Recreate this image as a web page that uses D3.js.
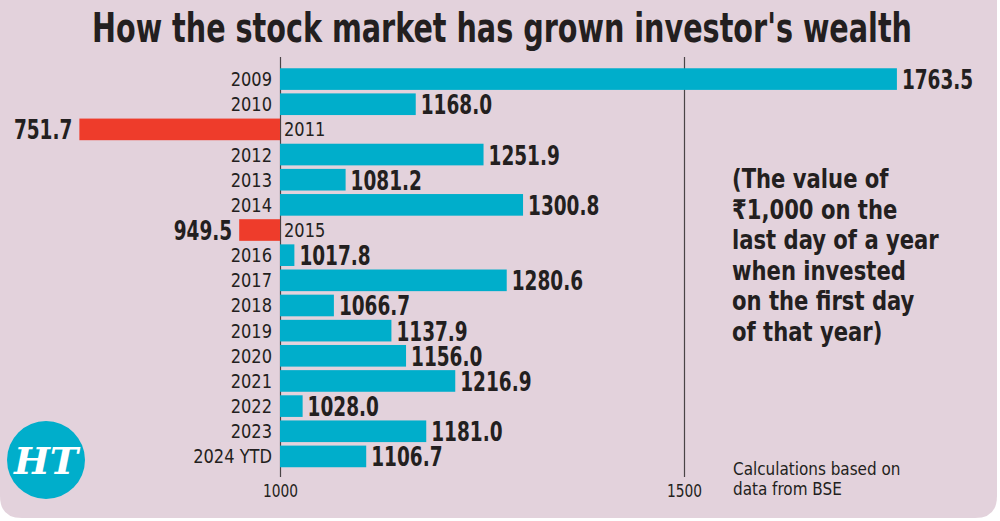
<!DOCTYPE html>
<html>
<head>
<meta charset="utf-8">
<script src="https://cdn.jsdelivr.net/npm/d3@7"></script>
<style>
  body { margin: 0; background: #ffffff; }
  svg { display: block; }
  text { font-family: "DejaVu Sans Condensed", "DejaVu Sans", sans-serif; fill: #231f20; }
</style>
</head>
<body>
<div id="chart"></div>
<script>
const years = ['2009', '2010', '2011', '2012', '2013', '2014', '2015', '2016', '2017', '2018', '2019', '2020', '2021', '2022', '2023', '2024 YTD'];
const values = [1763.5, 1168.0, 751.7, 1251.9, 1081.2, 1300.8, 949.5, 1017.8, 1280.6, 1066.7, 1137.9, 1156.0, 1216.9, 1028.0, 1181.0, 1106.7];
const tickValues = [1000, 1500];
const noteLines = ['(The value of', '₹1,000 on the', 'last day of a year', 'when invested', 'on the first day', 'of that year)'];
const sourceLines = ['Calculations based on', 'data from BSE'];

const data = years.map((y, i) => ({ year: y, value: values[i] }));

// squeeze text horizontally to mimic the condensed newspaper face
function condense(sel, k) {
    sel.each(function() {
        const w = this.getComputedTextLength();
        d3.select(this)
            .attr('textLength', w * k)
            .attr('lengthAdjust', 'spacingAndGlyphs');
    });
}

const width = 1000, height = 521;
const svg = d3.select('#chart')
    .append('svg')
    .attr('width', width)
    .attr('height', height);

// card background, bottom corners rounded
const r = 22, cw = 997, ch = 518;
svg.append('path')
    .attr('d', `M0,0 H${cw} V${ch - r} Q${cw},${ch} ${cw - r},${ch} H${r} Q0,${ch} 0,${ch - r} Z`)
    .style('fill', '#e3d2dc');

svg.append('text')
    .attr('x', 92)
    .attr('y', 42)
    .attr('textLength', 820)
    .attr('lengthAdjust', 'spacingAndGlyphs')
    .style('font-size', '40px')
    .style('font-weight', 'bold')
    .text("How the stock market has grown investor's wealth");

const xScale = d3.scaleLinear()
    .domain([1000, 1500])
    .range([280, 684]);

const yScale = d3.scaleBand()
    .domain(years)
    .range([66.5, 469])
    .paddingInner(0.14)
    .paddingOuter(0.07);

// vertical reference lines via axis ticks
const axisY = 477;
const xAxis = d3.axisBottom(xScale)
    .tickValues(tickValues)
    .tickSizeInner(-(axisY - 57))
    .tickSizeOuter(0)
    .tickPadding(8)
    .tickFormat(d3.format('d'));

const ax = svg.append('g')
    .attr('transform', `translate(0, ${axisY})`)
    .call(xAxis);
ax.select('.domain').remove();
ax.selectAll('.tick line').style('stroke', '#4a4446').style('stroke-width', 1.2);
ax.selectAll('.tick text')
    .style('font-size', '17px')
    .style('font-family', '"DejaVu Sans Condensed", "DejaVu Sans", sans-serif')
    .style('fill', '#231f20')
    .call(condense, 0.9);

const rows = svg.selectAll('.row')
    .data(data)
    .enter()
    .append('g')
    .attr('class', 'row');

rows.append('rect')
    .attr('x', d => Math.min(xScale(d.value), xScale(1000)))
    .attr('y', d => yScale(d.year))
    .attr('width', d => Math.abs(xScale(d.value) - xScale(1000)))
    .attr('height', yScale.bandwidth())
    .style('fill', d => d.value >= 1000 ? '#00aecb' : '#ee3c2b');

// year labels
rows.append('text')
    .attr('x', d => d.value >= 1000 ? xScale(1000) - 8 : xScale(1000) + 4)
    .attr('y', d => yScale(d.year) + yScale.bandwidth() / 2 + 7)
    .attr('text-anchor', d => d.value >= 1000 ? 'end' : 'start')
    .style('font-size', '19px')
    .text(d => d.year)
    .call(condense, 0.95);

// value labels
rows.append('text')
    .attr('x', d => d.value >= 1000 ? xScale(d.value) + 5 : xScale(d.value) - 7)
    .attr('y', d => yScale(d.year) + yScale.bandwidth() / 2 + 10)
    .attr('text-anchor', d => d.value >= 1000 ? 'start' : 'end')
    .style('font-size', '26px')
    .style('font-weight', 'bold')
    .text(d => d.value.toFixed(1))
    .call(condense, 0.79);

// side note
svg.append('g')
    .selectAll('text')
    .data(noteLines)
    .enter()
    .append('text')
    .attr('x', 732)
    .attr('y', (d, i) => 188 + i * 30.6)
    .style('font-size', '27px')
    .style('font-weight', 'bold')
    .text(d => d)
    .call(condense, 0.87);

svg.append('g')
    .selectAll('text')
    .data(sourceLines)
    .enter()
    .append('text')
    .attr('x', 733)
    .attr('y', (d, i) => 475 + i * 20)
    .style('font-size', '18px')
    .text(d => d)
    .call(condense, 0.94);

// HT logo
const logo = svg.append('g').attr('transform', 'translate(46, 460)');
logo.append('circle')
    .attr('r', 39)
    .style('fill', '#00aecb');
logo.append('text')
    .attr('text-anchor', 'middle')
    .attr('y', 14)
    .style('font-family', '"DejaVu Serif", "Liberation Serif", serif')
    .style('font-size', '38px')
    .style('font-weight', 'bold')
    .style('font-style', 'italic')
    .style('fill', '#ffffff')
    .text('HT');
</script>
</body>
</html>
